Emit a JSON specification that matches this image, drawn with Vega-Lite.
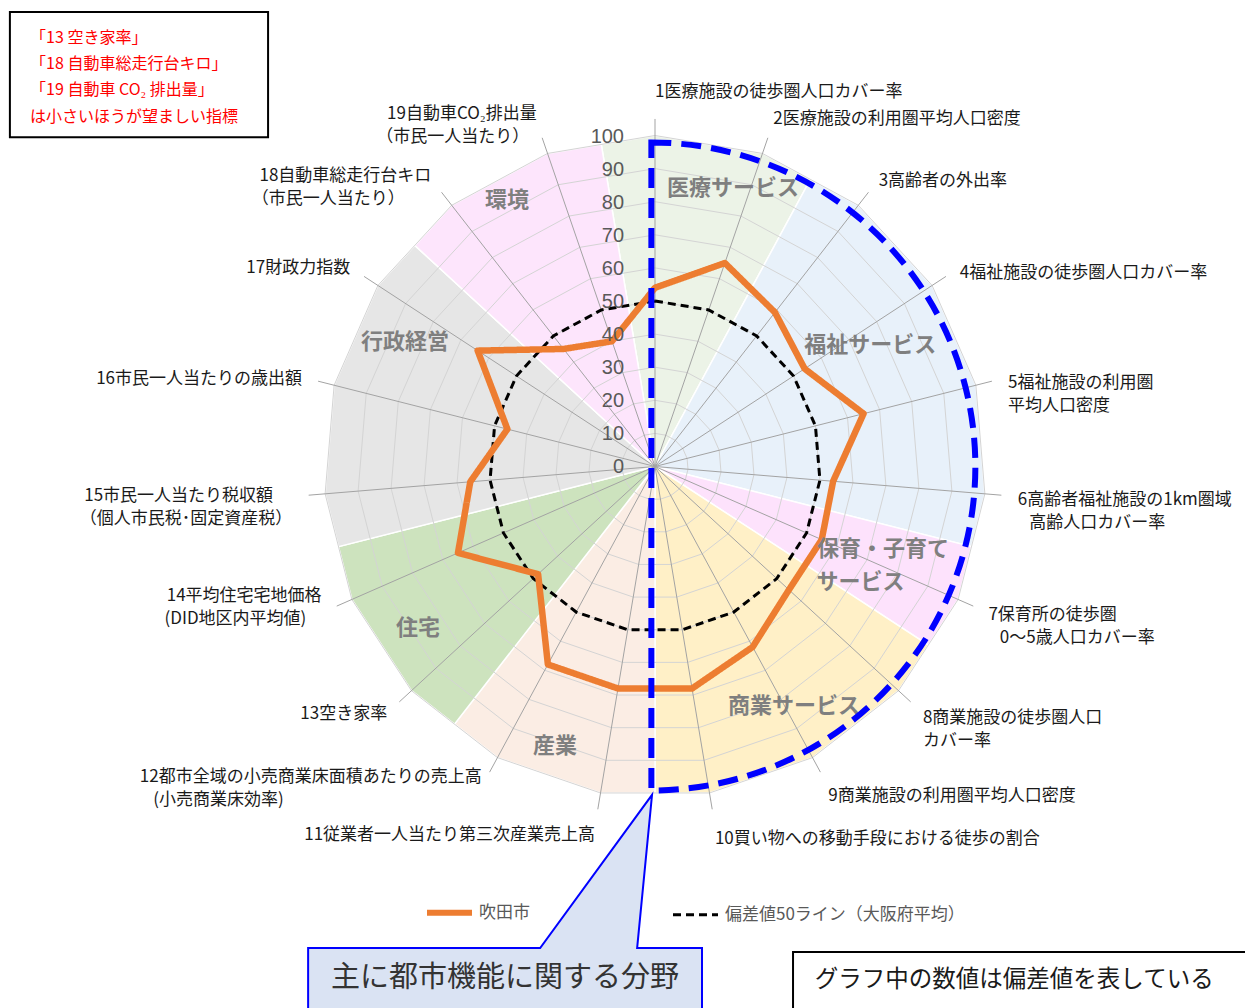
{
  "$schema": "https://vega.github.io/schema/vega-lite/v6.json",
  "width": 1245,
  "height": 1008,
  "autosize": {"type": "none"},
  "padding": 0,
  "background": "white",
  "config": {"view": {"stroke": null}},
  "datasets": {
    "spokes": [
      {"no": 1, "label": "1医療施設の徒歩圏人口カバー率", "吹田市": 54, "偏差値50ライン（大阪府平均）": 50},
      {"no": 2, "label": "2医療施設の利用圏平均人口密度", "吹田市": 65, "偏差値50ライン（大阪府平均）": 50},
      {"no": 3, "label": "3高齢者の外出率", "吹田市": 59, "偏差値50ライン（大阪府平均）": 50},
      {"no": 4, "label": "4福祉施設の徒歩圏人口カバー率", "吹田市": 54, "偏差値50ライン（大阪府平均）": 50},
      {"no": 5, "label": "5福祉施設の利用圏\n平均人口密度", "吹田市": 65, "偏差値50ライン（大阪府平均）": 50},
      {"no": 6, "label": "6高齢者福祉施設の1km圏域\n\u2060\u00a0\u00a0\u00a0高齢人口カバー率", "吹田市": 54, "偏差値50ライン（大阪府平均）": 50},
      {"no": 7, "label": "7保育所の徒歩圏\n\u2060\u00a0\u00a0\u00a00～5歳人口カバー率", "吹田市": 55, "偏差値50ライン（大阪府平均）": 50},
      {"no": 8, "label": "8商業施設の徒歩圏人口\nカバー率", "吹田市": 55, "偏差値50ライン（大阪府平均）": 50},
      {"no": 9, "label": "9商業施設の利用圏平均人口密度", "吹田市": 62, "偏差値50ライン（大阪府平均）": 50},
      {"no": 10, "label": "10買い物への移動手段における徒歩の割合", "吹田市": 68, "偏差値50ライン（大阪府平均）": 50},
      {"no": 11, "label": "11従業者一人当たり第三次産業売上高", "吹田市": 68, "偏差値50ライン（大阪府平均）": 50},
      {"no": 12, "label": "12都市全域の小売商業床面積あたりの売上高\n(小売商業床効率)\u00a0\u00a0\u00a0\u00a0\u00a0\u00a0\u00a0\u00a0\u00a0\u00a0\u00a0\u00a0\u00a0\u00a0\u00a0\u00a0\u00a0\u00a0\u00a0\u00a0\u00a0\u00a0\u00a0\u00a0\u00a0\u00a0\u00a0\u00a0\u00a0\u00a0\u00a0\u00a0\u00a0\u00a0\u00a0\u00a0\u00a0\u00a0\u00a0\u00a0\u00a0\u00a0\u00a0\u00a0\u00a0\u00a0\u00a0\u00a0\u00a0\u00a0\u00a0\u00a0\u2060", "吹田市": 68, "偏差値50ライン（大阪府平均）": 50},
      {"no": 13, "label": "13空き家率", "吹田市": 48, "偏差値50ライン（大阪府平均）": 50},
      {"no": 14, "label": "14平均住宅宅地価格\n(DID地区内平均値)\u00a0\u00a0\u00a0\u00a0\u2060", "吹田市": 65, "偏差値50ライン（大阪府平均）": 50},
      {"no": 15, "label": "15市民一人当たり税収額\u00a0\u00a0\u00a0\u00a0\u00a0\u2060\n（個人市民税･固定資産税）", "吹田市": 56, "偏差値50ライン（大阪府平均）": 50},
      {"no": 16, "label": "16市民一人当たりの歳出額", "吹田市": 46, "偏差値50ライン（大阪府平均）": 50},
      {"no": 17, "label": "17財政力指数", "吹田市": 64, "偏差値50ライン（大阪府平均）": 50},
      {"no": 18, "label": "18自動車総走行台キロ\n（市民一人当たり）\u00a0\u00a0\u00a0\u00a0\u00a0\u00a0\u00a0\u2060", "吹田市": 45, "偏差値50ライン（大阪府平均）": 50},
      {"no": 19, "label": "19自動車CO₂排出量\n（市民一人当たり）\u00a0\u00a0\u2060", "吹田市": 40, "偏差値50ライン（大阪府平均）": 50}
    ],
    "sectors": [
      {"g": "医療", "o": 0, "a": 0, "r": 0}, {"g": "医療", "o": 1, "a": -0.5, "r": 98.64}, {"g": "医療", "o": 2, "a": 0, "r": 100}, {"g": "医療", "o": 3, "a": 1, "r": 100}, {"g": "医療", "o": 4, "a": 1.5, "r": 98.64},
      {"g": "福祉", "o": 0, "a": 0, "r": 0}, {"g": "福祉", "o": 1, "a": 1.5, "r": 98.64}, {"g": "福祉", "o": 2, "a": 2, "r": 100}, {"g": "福祉", "o": 3, "a": 3, "r": 100}, {"g": "福祉", "o": 4, "a": 4, "r": 100}, {"g": "福祉", "o": 5, "a": 5, "r": 100}, {"g": "福祉", "o": 6, "a": 5.5, "r": 98.64},
      {"g": "保育", "o": 0, "a": 0, "r": 0}, {"g": "保育", "o": 1, "a": 5.5, "r": 98.64}, {"g": "保育", "o": 2, "a": 6, "r": 100}, {"g": "保育", "o": 3, "a": 6.5, "r": 98.64},
      {"g": "商業", "o": 0, "a": 0, "r": 0}, {"g": "商業", "o": 1, "a": 6.5, "r": 98.64}, {"g": "商業", "o": 2, "a": 7, "r": 100}, {"g": "商業", "o": 3, "a": 8, "r": 100}, {"g": "商業", "o": 4, "a": 9, "r": 100}, {"g": "商業", "o": 5, "a": 9.5, "r": 98.64},
      {"g": "産業", "o": 0, "a": 0, "r": 0}, {"g": "産業", "o": 1, "a": 9.5, "r": 98.64}, {"g": "産業", "o": 2, "a": 10, "r": 100}, {"g": "産業", "o": 3, "a": 11, "r": 100}, {"g": "産業", "o": 4, "a": 11.5, "r": 98.64},
      {"g": "住宅", "o": 0, "a": 0, "r": 0}, {"g": "住宅", "o": 1, "a": 11.5, "r": 98.64}, {"g": "住宅", "o": 2, "a": 12, "r": 100}, {"g": "住宅", "o": 3, "a": 13, "r": 100}, {"g": "住宅", "o": 4, "a": 13.5, "r": 98.64},
      {"g": "行政", "o": 0, "a": 0, "r": 0}, {"g": "行政", "o": 1, "a": 13.5, "r": 98.64}, {"g": "行政", "o": 2, "a": 14, "r": 100}, {"g": "行政", "o": 3, "a": 15, "r": 100}, {"g": "行政", "o": 4, "a": 16, "r": 100}, {"g": "行政", "o": 5, "a": 16.5, "r": 98.64},
      {"g": "環境", "o": 0, "a": 0, "r": 0}, {"g": "環境", "o": 1, "a": 16.5, "r": 98.64}, {"g": "環境", "o": 2, "a": 17, "r": 100}, {"g": "環境", "o": 3, "a": 18, "r": 100}, {"g": "環境", "o": 4, "a": 18.5, "r": 98.64}
    ],
    "grid": [
      {"a": 0, "lv": [10, 20, 30, 40, 50, 60, 70, 80, 90, 100]},
      {"a": 1, "lv": [10, 20, 30, 40, 50, 60, 70, 80, 90, 100]},
      {"a": 2, "lv": [10, 20, 30, 40, 50, 60, 70, 80, 90, 100]},
      {"a": 3, "lv": [10, 20, 30, 40, 50, 60, 70, 80, 90, 100]},
      {"a": 4, "lv": [10, 20, 30, 40, 50, 60, 70, 80, 90, 100]},
      {"a": 5, "lv": [10, 20, 30, 40, 50, 60, 70, 80, 90, 100]},
      {"a": 6, "lv": [10, 20, 30, 40, 50, 60, 70, 80, 90, 100]},
      {"a": 7, "lv": [10, 20, 30, 40, 50, 60, 70, 80, 90, 100]},
      {"a": 8, "lv": [10, 20, 30, 40, 50, 60, 70, 80, 90, 100]},
      {"a": 9, "lv": [10, 20, 30, 40, 50, 60, 70, 80, 90, 100]},
      {"a": 10, "lv": [10, 20, 30, 40, 50, 60, 70, 80, 90, 100]},
      {"a": 11, "lv": [10, 20, 30, 40, 50, 60, 70, 80, 90, 100]},
      {"a": 12, "lv": [10, 20, 30, 40, 50, 60, 70, 80, 90, 100]},
      {"a": 13, "lv": [10, 20, 30, 40, 50, 60, 70, 80, 90, 100]},
      {"a": 14, "lv": [10, 20, 30, 40, 50, 60, 70, 80, 90, 100]},
      {"a": 15, "lv": [10, 20, 30, 40, 50, 60, 70, 80, 90, 100]},
      {"a": 16, "lv": [10, 20, 30, 40, 50, 60, 70, 80, 90, 100]},
      {"a": 17, "lv": [10, 20, 30, 40, 50, 60, 70, 80, 90, 100]},
      {"a": 18, "lv": [10, 20, 30, 40, 50, 60, 70, 80, 90, 100]}
    ],
    "ticks": [{"t": 0}, {"t": 10}, {"t": 20}, {"t": 30}, {"t": 40}, {"t": 50}, {"t": 60}, {"t": 70}, {"t": 80}, {"t": 90}, {"t": 100}],
    "sectorLabels": [
      {"t": "医療サービス", "x": 23.6, "y": 84.1},
      {"t": "環境", "x": -44.7, "y": 80.5},
      {"t": "行政経営", "x": -75.5, "y": 37.6},
      {"t": "福祉サービス", "x": 65.0, "y": 36.7},
      {"t": "保育・子育て\nサービス\u00a0\u00a0\u00a0\u00a0\u00a0\u00a0\u00a0\u00a0\u00a0\u2060", "x": 68.9, "y": -24.9},
      {"t": "住宅", "x": -71.6, "y": -48.8},
      {"t": "産業", "x": -30.2, "y": -84.4},
      {"t": "商業サービス", "x": 42.0, "y": -72.4}
    ]
  },
  "layer": [
    {
      "data": {"name": "sectors"},
      "transform": [
        {"calculate": "datum.r*sin(2*PI*datum.a/19)", "as": "x"},
        {"calculate": "datum.r*cos(2*PI*datum.a/19)", "as": "y"}
      ],
      "mark": {"type": "line", "interpolate": "linear-closed", "stroke": "#ffffff", "strokeWidth": 1.5},
      "encoding": {
        "x": {"field": "x", "type": "quantitative", "scale": {"domain": [-197.89, 178.25], "nice": false, "zero": false}, "axis": null},
        "y": {"field": "y", "type": "quantitative", "scale": {"domain": [-163.6, 140.94], "nice": false, "zero": false}, "axis": null},
        "order": {"field": "o", "type": "quantitative"},
        "detail": {"field": "g", "type": "nominal"},
        "fill": {"field": "g", "type": "nominal", "legend": null,
          "scale": {"domain": ["医療", "福祉", "保育", "商業", "産業", "住宅", "行政", "環境"],
                    "range": ["#ecf3e7", "#e8f1fa", "#fde2fc", "#fff0c7", "#fbede4", "#cde3be", "#e6e6e6", "#fde5fc"]}}
      }
    },
    {
      "data": {"name": "grid"},
      "transform": [
        {"flatten": ["lv"]},
        {"calculate": "datum.lv*sin(2*PI*datum.a/19)", "as": "x"},
        {"calculate": "datum.lv*cos(2*PI*datum.a/19)", "as": "y"}
      ],
      "mark": {"type": "line", "interpolate": "linear-closed", "stroke": "#d4d4d4", "strokeWidth": 1},
      "encoding": {
        "x": {"field": "x", "type": "quantitative", "scale": {"domain": [-197.89, 178.25], "nice": false, "zero": false}, "axis": null},
        "y": {"field": "y", "type": "quantitative", "scale": {"domain": [-163.6, 140.94], "nice": false, "zero": false}, "axis": null},
        "order": {"field": "a", "type": "quantitative"},
        "detail": {"field": "lv", "type": "nominal"}
      }
    },
    {
      "data": {"name": "spokes"},
      "transform": [
        {"calculate": "105*sin(2*PI*(datum.no-1)/19)", "as": "sx"},
        {"calculate": "105*cos(2*PI*(datum.no-1)/19)", "as": "sy"}
      ],
      "mark": {"type": "rule", "stroke": "#a3a3a3", "strokeWidth": 1},
      "encoding": {
        "x": {"field": "sx", "type": "quantitative", "scale": {"domain": [-197.89, 178.25], "nice": false, "zero": false}, "axis": null},
        "y": {"field": "sy", "type": "quantitative", "scale": {"domain": [-163.6, 140.94], "nice": false, "zero": false}, "axis": null},
        "x2": {"datum": 0},
        "y2": {"datum": 0}
      }
    },
    {
      "data": {"name": "spokes"},
      "transform": [
        {"fold": ["吹田市", "偏差値50ライン（大阪府平均）"], "as": ["series", "v"]},
        {"filter": "datum.series !== '吹田市'"},
        {"calculate": "datum.v*sin(2*PI*(datum.no-1)/19)", "as": "x"},
        {"calculate": "datum.v*cos(2*PI*(datum.no-1)/19)", "as": "y"}
      ],
      "mark": {"type": "line", "interpolate": "linear-closed", "strokeWidth": 3},
      "encoding": {
        "x": {"field": "x", "type": "quantitative", "scale": {"domain": [-197.89, 178.25], "nice": false, "zero": false}, "axis": null},
        "y": {"field": "y", "type": "quantitative", "scale": {"domain": [-163.6, 140.94], "nice": false, "zero": false}, "axis": null},
        "order": {"field": "no", "type": "quantitative"},
        "color": {"field": "series", "type": "nominal",
          "scale": {"domain": ["吹田市", "偏差値50ライン（大阪府平均）"], "range": ["#ed7d31", "#000000"]},
          "legend": {"title": null, "orient": "none", "legendX": 441, "legendY": 904, "direction": "horizontal", "columns": 2, "columnPadding": 137,
            "symbolType": "stroke", "symbolSize": 2025, "labelFont": "Noto Sans CJK JP", "labelFontSize": 17, "labelColor": "#595959", "labelOffset": 21, "labelLimit": 400, "padding": 0,
            "encode": {"symbols": {"update": {"strokeWidth": {"signal": "datum.value === '吹田市' ? 6 : 3"}, "strokeDash": {"signal": "datum.value === '吹田市' ? [1,0] : [8,5]"}}}}}},
        "strokeDash": {"field": "series", "type": "nominal", "legend": null,
          "scale": {"domain": ["吹田市", "偏差値50ライン（大阪府平均）"], "range": [[1, 0], [8, 5]]}}
      }
    },
    {
      "data": {"name": "spokes"},
      "transform": [
        {"fold": ["吹田市", "偏差値50ライン（大阪府平均）"], "as": ["series", "v"]},
        {"filter": "datum.series === '吹田市'"},
        {"calculate": "datum.v*sin(2*PI*(datum.no-1)/19)", "as": "x"},
        {"calculate": "datum.v*cos(2*PI*(datum.no-1)/19)", "as": "y"}
      ],
      "mark": {"type": "line", "interpolate": "linear-closed", "strokeWidth": 6.5, "strokeJoin": "round"},
      "encoding": {
        "x": {"field": "x", "type": "quantitative", "scale": {"domain": [-197.89, 178.25], "nice": false, "zero": false}, "axis": null},
        "y": {"field": "y", "type": "quantitative", "scale": {"domain": [-163.6, 140.94], "nice": false, "zero": false}, "axis": null},
        "order": {"field": "no", "type": "quantitative"},
        "color": {"field": "series", "type": "nominal",
          "scale": {"domain": ["吹田市", "偏差値50ライン（大阪府平均）"], "range": ["#ed7d31", "#000000"]},
          "legend": {"title": null, "orient": "none", "legendX": 441, "legendY": 904, "direction": "horizontal", "columns": 2, "columnPadding": 137,
            "symbolType": "stroke", "symbolSize": 2025, "labelFont": "Noto Sans CJK JP", "labelFontSize": 17, "labelColor": "#595959", "labelOffset": 21, "labelLimit": 400, "padding": 0,
            "encode": {"symbols": {"update": {"strokeWidth": {"signal": "datum.value === '吹田市' ? 6 : 3"}, "strokeDash": {"signal": "datum.value === '吹田市' ? [1,0] : [8,5]"}}}}}},
        "strokeDash": {"field": "series", "type": "nominal", "legend": null,
          "scale": {"domain": ["吹田市", "偏差値50ライン（大阪府平均）"], "range": [[1, 0], [8, 5]]}}
      }
    },
    {
      "data": {"name": "ticks"},
      "mark": {"type": "text", "align": "right", "baseline": "middle", "dx": -31, "dy": 1, "font": "Liberation Sans", "fontSize": 20, "fill": "#595959"},
      "encoding": {
        "x": {"datum": 0, "type": "quantitative", "scale": {"domain": [-197.89, 178.25], "nice": false, "zero": false}, "axis": null},
        "y": {"field": "t", "type": "quantitative", "scale": {"domain": [-163.6, 140.94], "nice": false, "zero": false}, "axis": null},
        "text": {"field": "t", "type": "quantitative"}
      }
    },
    {
      "data": {"name": "sectorLabels"},
      "mark": {"type": "text", "align": "center", "baseline": "middle", "font": "Noto Sans CJK JP", "fontSize": 22, "fontWeight": "bold", "fill": "#7f7f7f", "lineBreak": "\n", "lineHeight": 33},
      "encoding": {
        "x": {"field": "x", "type": "quantitative", "scale": {"domain": [-197.89, 178.25], "nice": false, "zero": false}, "axis": null},
        "y": {"field": "y", "type": "quantitative", "scale": {"domain": [-163.6, 140.94], "nice": false, "zero": false}, "axis": null},
        "text": {"field": "t", "type": "nominal"}
      }
    },
    {
      "data": {"values": [{"k": "field"}]},
      "mark": {"type": "arc", "theta": 0, "theta2": 3.14159, "radius": 324, "filled": false, "color": "#0000ff", "strokeWidth": 6, "strokeDash": [20, 10]},
      "encoding": {
        "x": {"datum": -1.1, "type": "quantitative", "scale": {"domain": [-197.89, 178.25], "nice": false, "zero": false}, "axis": null},
        "y": {"datum": 0, "type": "quantitative", "scale": {"domain": [-163.6, 140.94], "nice": false, "zero": false}, "axis": null}
      }
    },
    {
      "data": {"name": "spokes"},
      "transform": [
        {"calculate": "2*PI*(datum.no-1)/19", "as": "ang"},
        {"calculate": "110*sin(datum.ang)", "as": "x"},
        {"calculate": "cos(datum.ang)*(108+5*cos(datum.ang)*cos(datum.ang)) + ((sin(datum.ang) < 0 && cos(datum.ang) < -0.2 && indexof(datum.label, '\\n') >= 0) ? 4.5 : 0) - (sin(datum.ang) > 0.05 ? 1.3 : 0)", "as": "y"},
        {"filter": "datum.x >= -0.5"}
      ],
      "mark": {"type": "text", "align": "left", "baseline": "middle", "font": "Noto Sans CJK JP", "fontSize": 17, "fill": "#1a1a1a", "lineBreak": "\n", "lineHeight": 23},
      "encoding": {
        "x": {"field": "x", "type": "quantitative", "scale": {"domain": [-197.89, 178.25], "nice": false, "zero": false}, "axis": null},
        "y": {"field": "y", "type": "quantitative", "scale": {"domain": [-163.6, 140.94], "nice": false, "zero": false}, "axis": null},
        "text": {"field": "label", "type": "nominal"}
      }
    },
    {
      "data": {"name": "spokes"},
      "transform": [
        {"calculate": "2*PI*(datum.no-1)/19", "as": "ang"},
        {"calculate": "110*sin(datum.ang)", "as": "x"},
        {"calculate": "cos(datum.ang)*(108+5*cos(datum.ang)*cos(datum.ang)) + ((sin(datum.ang) < 0 && cos(datum.ang) < -0.2 && indexof(datum.label, '\\n') >= 0) ? 4.5 : 0)", "as": "y"},
        {"filter": "datum.x < -0.5"}
      ],
      "mark": {"type": "text", "align": "right", "baseline": "middle", "font": "Noto Sans CJK JP", "fontSize": 17, "fill": "#1a1a1a", "lineBreak": "\n", "lineHeight": 23},
      "encoding": {
        "x": {"field": "x", "type": "quantitative", "scale": {"domain": [-197.89, 178.25], "nice": false, "zero": false}, "axis": null},
        "y": {"field": "y", "type": "quantitative", "scale": {"domain": [-163.6, 140.94], "nice": false, "zero": false}, "axis": null},
        "text": {"field": "label", "type": "nominal"}
      }
    },
    {
      "data": {"values": [
        {"x1": -194.9, "x2": -116.9, "y1": 137.3, "y2": 99.5},
        {"x1": 41.7, "x2": 182, "y1": -146.7, "y2": -170}
      ]},
      "mark": {"type": "rect", "fill": null, "fillOpacity": 0, "stroke": "#000000", "strokeWidth": 2},
      "encoding": {
        "x": {"field": "x1", "type": "quantitative", "scale": {"domain": [-197.89, 178.25], "nice": false, "zero": false}, "axis": null},
        "x2": {"field": "x2"},
        "y": {"field": "y1", "type": "quantitative", "scale": {"domain": [-163.6, 140.94], "nice": false, "zero": false}, "axis": null},
        "y2": {"field": "y2"}
      }
    },
    {
      "data": {"values": [{"t": "「13 空き家率」\n「18 自動車総走行台キロ」\n「19 自動車 CO₂ 排出量」\nは小さいほうが望ましい指標", "x": -188.8, "y": 129.5}]},
      "mark": {"type": "text", "align": "left", "baseline": "middle", "font": "Noto Sans CJK JP", "fontSize": 16, "fill": "#ff0000", "lineBreak": "\n", "lineHeight": 26.3},
      "encoding": {
        "x": {"field": "x", "type": "quantitative", "scale": {"domain": [-197.89, 178.25], "nice": false, "zero": false}, "axis": null},
        "y": {"field": "y", "type": "quantitative", "scale": {"domain": [-163.6, 140.94], "nice": false, "zero": false}, "axis": null},
        "text": {"field": "t", "type": "nominal"}
      }
    },
    {
      "data": {"values": [
        {"o": 1, "x": -104.8, "y": -170}, {"o": 2, "x": -104.8, "y": -145.5}, {"o": 3, "x": -34.7, "y": -145.5},
        {"o": 4, "x": -0.9, "y": -99.2}, {"o": 5, "x": -5.4, "y": -145.5}, {"o": 6, "x": 14.2, "y": -145.5}, {"o": 7, "x": 14.2, "y": -170}
      ]},
      "mark": {"type": "line", "interpolate": "linear-closed", "stroke": "#0000ff", "strokeWidth": 2},
      "encoding": {
        "x": {"field": "x", "type": "quantitative", "scale": {"domain": [-197.89, 178.25], "nice": false, "zero": false}, "axis": null},
        "y": {"field": "y", "type": "quantitative", "scale": {"domain": [-163.6, 140.94], "nice": false, "zero": false}, "axis": null},
        "order": {"field": "o", "type": "quantitative"},
        "fill": {"value": "#dae3f3"}
      }
    },
    {
      "data": {"values": [{"t": "主に都市機能に関する分野", "x": -45.3, "y": -154.5}]},
      "mark": {"type": "text", "align": "center", "baseline": "middle", "font": "Noto Sans CJK JP", "fontSize": 29, "fill": "#333333"},
      "encoding": {
        "x": {"field": "x", "type": "quantitative", "scale": {"domain": [-197.89, 178.25], "nice": false, "zero": false}, "axis": null},
        "y": {"field": "y", "type": "quantitative", "scale": {"domain": [-163.6, 140.94], "nice": false, "zero": false}, "axis": null},
        "text": {"field": "t", "type": "nominal"}
      }
    },
    {
      "data": {"values": [{"t": "グラフ中の数値は偏差値を表している", "x": 48.3, "y": -155.1}]},
      "mark": {"type": "text", "align": "left", "baseline": "middle", "font": "Noto Sans CJK JP", "fontSize": 23.5, "fill": "#1a1a1a"},
      "encoding": {
        "x": {"field": "x", "type": "quantitative", "scale": {"domain": [-197.89, 178.25], "nice": false, "zero": false}, "axis": null},
        "y": {"field": "y", "type": "quantitative", "scale": {"domain": [-163.6, 140.94], "nice": false, "zero": false}, "axis": null},
        "text": {"field": "t", "type": "nominal"}
      }
    }
  ]
}
